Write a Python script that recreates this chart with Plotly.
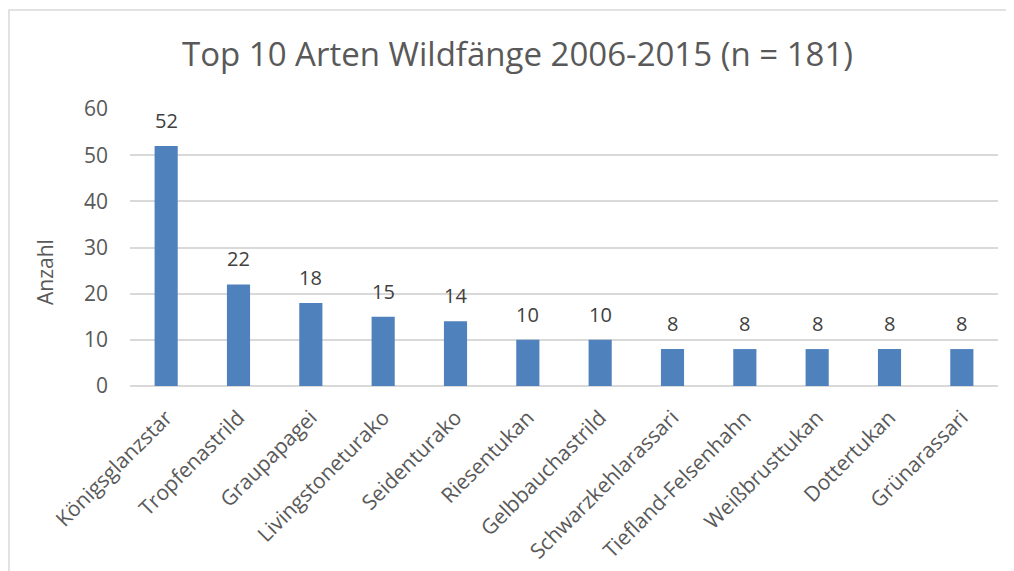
import plotly.graph_objects as go

categories = ["Königsglanzstar", "Tropfenastrild", "Graupapagei", "Livingstoneturako",
              "Seidenturako", "Riesentukan", "Gelbbauchastrild", "Schwarzkehlarassari",
              "Tiefland-Felsenhahn", "Weißbrusttukan", "Dottertukan", "Grünarassari"]
values = [52, 22, 18, 15, 14, 10, 10, 8, 8, 8, 8, 8]
y_ticks = [0, 10, 20, 30, 40, 50, 60]

FONT = "Open Sans"
TXT = "#595959"

# page body has an 8px margin; figure is sized to fill the rest of the window
W, H = 1006, 563
L, R, T, B = 122, 16, 101, 185
PW, PH = W - L - R, H - T - B

fig = go.Figure(go.Bar(
    x=categories, y=values,
    marker=dict(color="#4F81BD", line=dict(width=0)),
))

label_annotations = [dict(x=c, y=v, text=str(v), xref="x", yref="y", showarrow=False,
                          xanchor="center", yanchor="bottom", yshift=10,
                          font=dict(family=FONT, size=20, color="#404040"))
                     for c, v in zip(categories, values)]

fig.update_layout(
    width=W, height=H,
    paper_bgcolor="white", plot_bgcolor="white",
    margin=dict(l=L, r=R, t=T, b=B),
    bargap=0.68,
    showlegend=False,
    title=dict(text="Top 10 Arten Wildfänge 2006-2015 (n = 181)",
               x=509.5 / W, xanchor="center",
               y=1 - 46 / H, yanchor="middle",
               font=dict(family=FONT, size=33, color=TXT)),
    font=dict(family=FONT, color=TXT),
    xaxis=dict(tickangle=-45, tickfont=dict(family=FONT, size=21, color=TXT),
               showgrid=False, showline=False, automargin=False,
               ticks="outside", ticklen=10, tickcolor="rgba(0,0,0,0)"),
    yaxis=dict(range=[0, 60], tickvals=y_ticks, showgrid=True, gridcolor="#D9D9D9",
               gridwidth=1.5, zeroline=True, zerolinecolor="#D9D9D9", zerolinewidth=1.5,
               automargin=False,
               tickfont=dict(family=FONT, size=21, color=TXT), ticklabelstandoff=21),
    annotations=label_annotations + [
        dict(text="Anzahl", xref="paper", yref="paper",
             x=(37 - L) / PW, y=(378 - 264) / PH, textangle=-90,
             showarrow=False, xanchor="center", yanchor="middle",
             font=dict(family=FONT, size=21, color=TXT))],
    shapes=[dict(type="rect", xref="paper", yref="paper",
                 x0=(1 - L) / PW, x1=(1000 - L) / PW,
                 y0=(378 - 620) / PH, y1=(378 - 2) / PH,
                 line=dict(color="#D9D9D9", width=1.5), layer="below")],
)

fig.write_html("out.html")
